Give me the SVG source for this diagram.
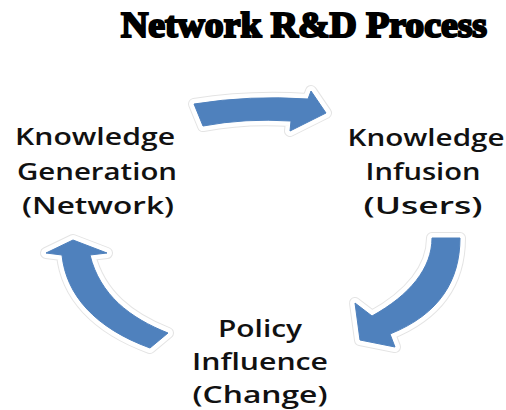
<svg xmlns="http://www.w3.org/2000/svg" xmlns:xlink="http://www.w3.org/1999/xlink" width="506" height="410" viewBox="0 0 506 410">
<style>
.lbl{font-family:"Open Sans","DejaVu Sans",sans-serif;font-weight:600;font-size:24px;fill:#111;text-anchor:middle}
.title{font-family:"Liberation Serif","Times New Roman",serif;font-weight:bold;font-size:36px;fill:#000;stroke:#000;stroke-width:2.2}
.halo1{fill:none;stroke:#e4e4e4;stroke-width:12;stroke-linejoin:round}
.halo2{fill:none;stroke:#fff;stroke-width:10;stroke-linejoin:round}
.arr{fill:#4f81bd;stroke:#4f81bd;stroke-width:1;stroke-linejoin:round}
</style>
<defs>
<path id="a1" d="M194,104 Q250,95 308,99 L311,91 L326,113 L290,131 L291,121 Q245,118 203,126 Z"/>
<path id="a2" d="M432,238 L460,238 C460,280 440,314 390,334 L395,347 L360,340 L355,303 L372,316 C410,295 432,268 432,238 Z"/>
<path id="a3" d="M73,240 L107,253 L90,255 C100,295 130,318 168,333 L150,348 C95,328 66,295 62,255 L46,253 Z"/>
</defs>
<rect width="506" height="410" fill="#fff"/>
<text class="title" x="121" y="37" textLength="366" lengthAdjust="spacingAndGlyphs">Network R&amp;D Process</text>
<g id="connectors">
<use xlink:href="#a1" class="halo1"/><use xlink:href="#a1" class="halo2"/><use xlink:href="#a1" class="arr"/>
<use xlink:href="#a2" class="halo1"/><use xlink:href="#a2" class="halo2"/><use xlink:href="#a2" class="arr"/>
<use xlink:href="#a3" class="halo1"/><use xlink:href="#a3" class="halo2"/><use xlink:href="#a3" class="arr"/>
</g>
<g id="node-generation">
<text class="lbl" x="95" y="145" textLength="160" lengthAdjust="spacingAndGlyphs">Knowledge</text>
<text class="lbl" x="97" y="180" textLength="160" lengthAdjust="spacingAndGlyphs">Generation</text>
<text class="lbl" x="98" y="214" textLength="152" lengthAdjust="spacingAndGlyphs">(Network)</text>
</g>
<g id="node-infusion">
<text class="lbl" x="426" y="146" textLength="157" lengthAdjust="spacingAndGlyphs">Knowledge</text>
<text class="lbl" x="423" y="180" textLength="115" lengthAdjust="spacingAndGlyphs">Infusion</text>
<text class="lbl" x="423" y="214" textLength="119" lengthAdjust="spacingAndGlyphs">(Users)</text>
</g>
<g id="node-policy">
<text class="lbl" x="260" y="337" textLength="84" lengthAdjust="spacingAndGlyphs">Policy</text>
<text class="lbl" x="260" y="370" textLength="136" lengthAdjust="spacingAndGlyphs">Influence</text>
<text class="lbl" x="260" y="403" textLength="135" lengthAdjust="spacingAndGlyphs">(Change)</text>
</g>
</svg>
